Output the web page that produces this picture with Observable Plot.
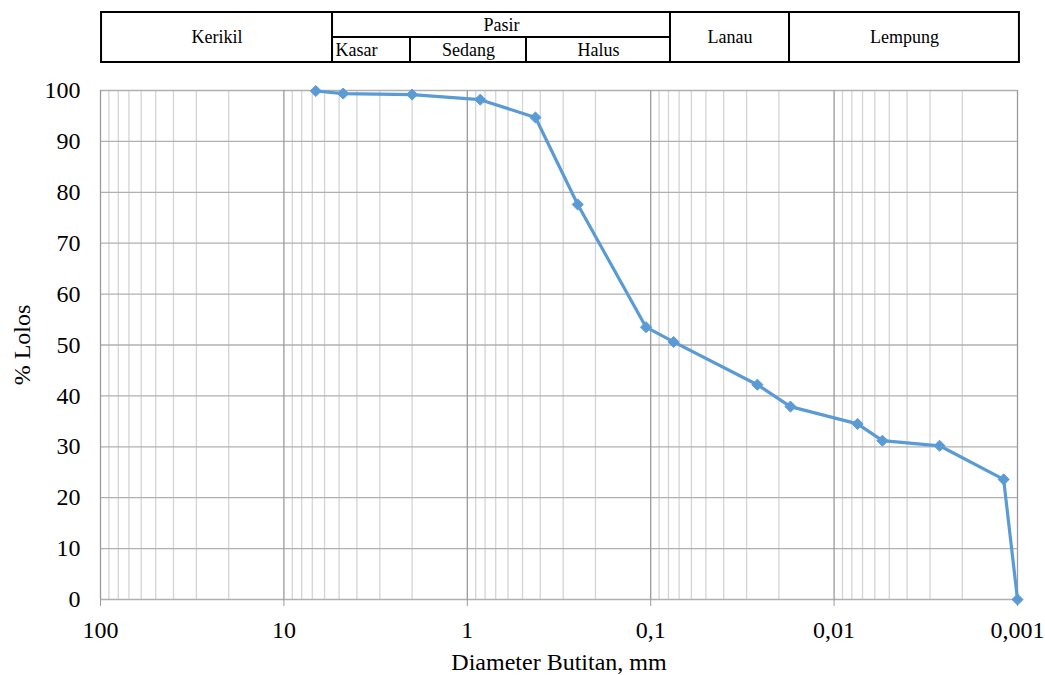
<!DOCTYPE html>
<html>
<head>
<meta charset="utf-8">
<script src="https://cdn.jsdelivr.net/npm/d3@7"></script>
<script src="https://cdn.jsdelivr.net/npm/@observablehq/plot@0.6"></script>
<style>
  html, body { margin: 0; padding: 0; background: #fff; }
  #chart { width: 1045px; height: 675px; }
  #chart svg { display: block; }
  #chart svg, #chart svg text { font-family: "Liberation Serif", "Times New Roman", serif !important; }
</style>
</head>
<body>
<div id="chart"></div>
<script>
// Grain size distribution (hydrometer + sieve analysis)
const diameterMm = [6.7, 4.75, 2.0, 0.85, 0.425, 0.25, 0.106, 0.075, 0.0262, 0.0173, 0.00745, 0.00545, 0.00266, 0.00119, 0.001];
const percentPassing = [99.9, 99.4, 99.2, 98.2, 94.7, 77.6, 53.5, 50.6, 42.2, 37.9, 34.5, 31.2, 30.2, 23.6, 0];

// Soil classification bands shown above the chart
const bandLabels = ["Kerikil", "Pasir", "Kasar", "Sedang", "Halus", "Lanau", "Lempung"];
const bandFrom   = [98.7, 5.43, 5.43, 2.04, 0.4756, 0.078, 0.0175];
const bandTo     = [5.43, 0.078, 2.04, 0.4756, 0.078, 0.0175, 0.000976];
const bandRow    = ["full", "top", "bottom", "bottom", "bottom", "full", "full"];

// Axis ticks
const xTickValues = [100, 10, 1, 0.1, 0.01, 0.001];
const xTickLabels = ["100", "10", "1", "0,1", "0,01", "0,001"];
const yTickValues = [0, 10, 20, 30, 40, 50, 60, 70, 80, 90, 100];

const points = diameterMm.map((d, i) => ({d, p: percentPassing[i]}));
const rowSpan = {full: [0, 2], top: [1, 2], bottom: [0, 1]};
const bands = bandLabels.map((label, i) => ({
  label, x1: bandFrom[i], x2: bandTo[i],
  y1: rowSpan[bandRow[i]][0], y2: rowSpan[bandRow[i]][1],
  xm: Math.sqrt(bandFrom[i] * bandTo[i]),
  ym: (rowSpan[bandRow[i]][0] + rowSpan[bandRow[i]][1]) / 2,
  left: label === "Kasar"
}));

// minor grid: 2..9 within each decade
const minorX = [];
for (let e = -3; e < 2; e++) for (let k = 2; k <= 9; k++) minorX.push(k * Math.pow(10, e));

const W = 1045, ML = 100, MR = 28;
const xScale = {type: "log", domain: [100, 0.001], range: [ML, W - MR]};

const table = Plot.plot({
  width: W, height: 65,
  marginLeft: 0, marginRight: 0, marginTop: 12, marginBottom: 3,
  x: {...xScale, axis: null},
  y: {domain: [0, 2], axis: null},
  style: {fontSize: "18px", background: "white", color: "black"},
  marks: [
    Plot.rect(bands, {x1: "x1", x2: "x2", y1: "y1", y2: "y2", fill: "white", stroke: "black", strokeWidth: 2}),
    Plot.text(bands.filter(b => !b.left), {x: "xm", y: "ym", text: "label", fontSize: 18, fill: "black"}),
    Plot.text(bands.filter(b => b.left), {x: "x1", y: "ym", text: "label", fontSize: 18, fill: "black", textAnchor: "start", dx: 3})
  ]
});

const chart = Plot.plot({
  width: W, height: 610,
  marginLeft: ML, marginRight: MR, marginTop: 25, marginBottom: 76,
  x: {...xScale},
  y: {domain: [0, 100]},
  style: {fontSize: "24px", background: "white", color: "black"},
  marks: [
    Plot.ruleX(minorX, {stroke: "#d4d4d4", strokeWidth: 1.3}),
    Plot.ruleY(yTickValues, {stroke: "#b0b0b0", strokeWidth: 1.3}),
    Plot.ruleX(xTickValues, {stroke: "#9a9a9a", strokeWidth: 1.3}),
    Plot.axisX({
      ticks: xTickValues,
      tickFormat: d => xTickLabels[xTickValues.indexOf(d)],
      tickSize: 7, tickPadding: 14, stroke: "#9a9a9a",
      fontSize: 24, fill: "black",
      label: "Diameter Butitan, mm", labelAnchor: "center", labelArrow: "none", labelOffset: 70
    }),
    Plot.axisY({
      ticks: yTickValues, tickSize: 0, tickPadding: 20,
      fontSize: 24, fill: "black",
      label: "% Lolos", labelAnchor: "center", labelArrow: "none", labelOffset: 88
    }),
    Plot.line(points, {x: "d", y: "p", stroke: "#5b9bd5", strokeWidth: 3.2}),
    Plot.dot(points, {x: "d", y: "p", symbol: "diamond2", r: 5, fill: "#5b9bd5", stroke: "#5b9bd5", strokeWidth: 1})
  ]
});

const root = document.getElementById("chart");
root.appendChild(table);
root.appendChild(chart);
</script>
</body>
</html>
